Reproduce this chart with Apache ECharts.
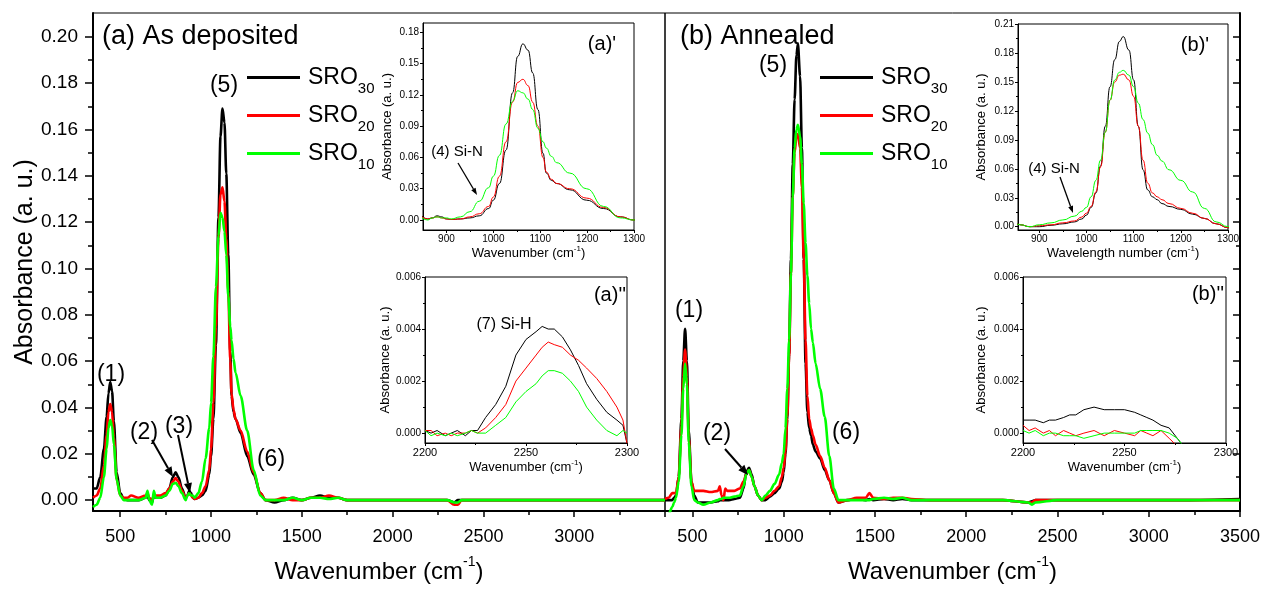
<!DOCTYPE html>
<html><head><meta charset="utf-8">
<script src="https://cdn.jsdelivr.net/npm/echarts@6/dist/echarts.min.js"></script>
<style>html,body{margin:0;padding:0;background:#fff}#c{width:1269px;height:589px}</style>
</head><body><div id="c"></div>
<script>
// ---------- DATA ----------
// (a) As deposited: wavenumbers and absorbance
const wnA = [350,370,390,410,425,435,445,455,465,480,500,520,540,560,600,640,650,660,675,685,695,720,750,770,790,805,820,840,860,870,880,890,900,910,930,950,970,990,1000,1013,1027,1041,1052,1063,1074,1084,1095,1106,1113,1124,1135,1163,1199,1235,1271,1300,1350,1400,1450,1500,1550,1600,1650,1700,1750,1800,1900,2000,2100,2200,2300,2340,2360,2380,2450,2600,2800,3000,3200,3400,3500];
const a30 = [.005,.005,.010,.022,.036,.046,.051,.047,.034,.012,
 .003,.0005,0,0,0,.001,.002,0,-.001,.002,
 .001,.001,.002,.005,.010,.012,.010,.005,.001,.002,
 .004,.003,.001,.0005,.001,.002,.004,.011,.019,.035,
 .067,.122,.157,.169,.163,.141,.106,.064,.045,.038,
 .035,.029,.019,.011,.003,0,-.001,0,.001,0,
 .001,.002,.001,.001,0,0,0,0,0,0,
 0,-.001,0,0,0,0,0,0,0,0,
 0];
const a20 = [.001,.002,.005,.015,.028,.038,.0415,.038,.027,.009,
 .002,.001,.001,.002,.001,.002,.003,.001,0,.002,
 .002,.002,.003,.005,.008,.0095,.008,.004,.001,.002,
 .003,.002,.001,.0005,.001,.003,.006,.013,.022,.042,
 .075,.113,.132,.135,.129,.113,.090,.060,.046,.039,
 .035,.030,.021,.012,.003,0,0,.001,0,0,
 .001,.001,.002,.001,0,0,0,0,0,0,
 0,-.002,-.002,0,0,0,0,0,0,0,
 0];
const a10 = [-.003,-.002,.001,.010,.022,.031,.0346,.032,.024,.009,
 .002,0,0,0,0,.001,.004,0,-.002,.004,
 .001,.001,.002,.004,.007,.0075,.006,.003,0,.002,
 .003,.002,.002,.001,.003,.008,.018,.031,.042,.062,
 .092,.114,.124,.122,.116,.106,.088,.075,.069,.061,
 .055,.045,.030,.013,.002,0,0,0,.001,0,
 .001,.001,.0005,.001,0,0,0,0,0,0,
 0,-.001,-.001,0,0,0,0,0,0,0,
 0];
// (b) Annealed
const wnB = [350,370,390,400,410,425,440,450,460,470,480,495,510,530,560,600,640,650,660,670,680,690,700,730,760,780,795,810,825,840,860,880,900,925,950,975,990,1000,1010,1020,1030,1040,1050,1060,1070,1078,1090,1100,1110,1120,1130,1140,1150,1160,1175,1200,1225,1250,1275,1300,1350,1400,1450,1470,1490,1550,1600,1650,1700,1800,2000,2200,2340,2360,2380,2500,2800,3000,3200,3500];
const b30 = [0,0,0,.001,.002,.010,.035,.060,.074,.060,
 .030,.008,.002,-.001,-.001,-.001,-.0005,0,0,0,
 0,0,0,.0005,.001,.005,.012,.014,.011,.006,
 .002,0,0,.0015,.003,.005,.008,.012,.020,.035,
 .063,.104,.145,.173,.192,.197,.183,.152,.104,.059,
 .038,.031,.028,.024,.021,.018,.013,.0086,.003,-.001,
 0,.0005,0,.0005,0,.0005,0,.0005,0,0,
 0,0,-.001,-.0005,0,0,0,0,0,.0005];
const b20 = [.0005,.001,.003,.003,.003,.010,.032,.053,.065,.053,
 .027,.008,.004,.004,.004,.0035,.004,.006,.002,0,
 .005,.004,.004,.004,.005,.008,.011,.013,.010,.006,
 .002,0,.001,.002,.004,.006,.010,.014,.021,.036,
 .062,.098,.131,.150,.157,.158,.152,.135,.104,.069,
 .045,.035,.031,.028,.024,.019,.014,.0086,.003,-.001,
 0,.001,.001,.003,.001,.0005,.001,.001,.0005,0,
 0,0,-.001,-.001,0,0,0,0,0,0];
const b10 = [-.008,-.006,-.003,-.001,.001,.008,.028,.048,.059,.050,
 .025,.006,0,-.001,-.002,-.001,0,.0005,.0005,.001,
 .001,.001,.001,.0015,.002,.006,.011,.013,.010,.006,
 .002,0,.002,.004,.007,.011,.016,.020,.031,.048,
 .069,.098,.131,.152,.160,.162,.157,.145,.128,.111,
 .097,.085,.074,.068,.059,.048,.036,.019,.005,0,
 0,0,0,0,.0005,.001,.0005,.001,0,0,
 0,0,-.001,-.002,-.001,0,0,0,0,0];
// Si-H region (insets a'' and b'')
const siHx = [2200,2203,2206,2210,2213,2216,2220,2223,2226,2230,2235,2240,2245,2250,2255,2258,2261,2264,2268,2272,2276,2280,2285,2290,2295,2298,2300];
const siHa30 = [.0001,0,.0001,-.0001,0,.0001,-.0001,.0001,.0001,.0006,.0011,.0018,.0030,.0036,.0039,.0041,.0040,.0040,.0037,.0032,.0026,.0019,.0013,.0008,.0005,.0003,-.0004];
const siHa20 = [.0001,.0001,-.0001,0,-.0001,0,0,.0001,0,.0002,.0006,.0011,.0020,.0025,.0030,.0033,.0035,.0034,.0033,.0030,.0028,.0025,.0021,.0016,.0010,.0005,-.0004];
const siHa10 = [.0001,-.0001,0,-.0001,0,-.0001,0,.0001,0,0,.0003,.0006,.0012,.0016,.0019,.0022,.0024,.0024,.0023,.0020,.0016,.0010,.0005,.0001,-.0001,.0001,0];
const siHb30 = [.0005,.0005,.0005,.0004,.0005,.0005,.0006,.0007,.0007,.0009,.0010,.0009,.0009,.0009,.0008,.0007,.0006,.0005,.0003,.0002,-.0002,-.0006,-.001,-.001,-.001,-.001,-.001];
const siHb20 = [.0003,.0001,.0002,0,.0001,-.0001,.0001,0,-.0001,0,.0001,-.0001,.0001,0,-.0001,.0001,0,-.0001,.0001,-.0002,-.0005,-.001,-.001,-.001,-.001,-.001,-.001];
const siHb10 = [.0001,0,.0001,-.0001,0,0,-.0001,-.0001,-.0001,-.0002,-.0001,0,0,0,0,.0001,.0001,.0001,.0001,0,-.0002,-.0006,-.001,-.001,-.001,-.001,-.001];
// tick values
const mainXTicks = [500,1000,1500,2000,2500,3000,3500];
const mainXMinor = [750,1250,1750,2250,2750,3250];
const mainYTicks = [0,0.02,0.04,0.06,0.08,0.10,0.12,0.14,0.16,0.18,0.20];
const mainYMinor = [0.01,0.03,0.05,0.07,0.09,0.11,0.13,0.15,0.17,0.19];
const primeXTicks = [900,1000,1100,1200,1300];
const primeXMinor = [950,1050,1150,1250];
const aPrimeYTicks = [0,0.03,0.06,0.09,0.12,0.15,0.18];
const bPrimeYTicks = [0,0.03,0.06,0.09,0.12,0.15,0.18,0.21];
const primeYMinor = [0.015,0.045,0.075,0.105,0.135,0.165,0.195];
const siHXTicks = [2200,2250,2300];
const siHXMinor = [2225,2275];
const siHYTicks = [0,0.002,0.004,0.006];
const siHYMinor = [0.001,0.003,0.005];
const seriesNames = ['SRO30','SRO20','SRO10'];
const seriesColors = ['#000000','#ff0000','#00ff00'];

// ---------- CHART ----------
const F = '"Liberation Sans", Arial, sans-serif';
const chart = echarts.init(document.getElementById('c'), null, {renderer:'canvas'});

const grids = [
  {left:93, top:13, width:572, height:503},
  {left:665, top:13, width:575, height:503},
  {left:423, top:23, width:211, height:207},
  {left:425, top:277, width:202, height:166},
  {left:1018, top:24, width:210, height:206},
  {left:1023, top:277, width:203, height:166}
].map(g => Object.assign(g, {show:true, borderColor:'#000', borderWidth:1, backgroundColor:'transparent', containLabel:false}));

function axPair(kind, gi, min, max, major, minor, o) {
  const pos = o.pos;
  const base = {type:'value', gridIndex:gi, min, max, position:pos, splitLine:{show:false}, scale:true};
  const maj = Object.assign({}, base, {
    axisLine:{show:true, onZero:false, lineStyle:{color:'#000', width:o.lw}},
    axisTick:{show:true, inside:!!o.inside, customValues:major, length:o.tl, lineStyle:{color:'#000', width:o.tw || 1}},
    axisLabel:{show:o.labels !== false, customValues:o.labelVals || major, fontSize:o.fs, color:'#000', fontFamily:F, margin:o.margin, formatter:o.fmt},
    name:o.name || '', nameLocation:'middle', nameGap:o.nameGap, nameTextStyle:o.nts || {}
  });
  const mnr = Object.assign({}, base, {
    axisLine:{show:false, onZero:false},
    axisTick:{show:true, inside:!!o.inside, customValues:minor, length:o.mtl, lineStyle:{color:'#000', width:o.tw || 1}},
    axisLabel:{show:false}
  });
  return [maj, mnr];
}

const bigXName = {rich:{a:{fontSize:24, fontFamily:F, color:'#000'}, s:{fontSize:14, fontFamily:F, color:'#000', padding:[0,0,20,0]}}};
const smallXName = {rich:{a:{fontSize:13, fontFamily:F, color:'#000'}, s:{fontSize:8, fontFamily:F, color:'#000', padding:[0,0,9,0]}}};
const wnName = '{a|Wavenumber (cm}{s|-1}{a|)}';
const fmt2 = v => v.toFixed(2), fmt3 = v => v.toFixed(3), fmt0 = v => String(Math.round(v));

const xAxes = [].concat(
  axPair('x',0,350,3500,mainXTicks,mainXMinor,{pos:'bottom',lw:2,tl:6,mtl:4,tw:1.5,fs:18,margin:17,fmt:fmt0,labelVals:mainXTicks.slice(0,6),name:wnName,nameGap:44,nts:bigXName}),
  axPair('x',1,350,3500,mainXTicks,mainXMinor,{pos:'bottom',lw:2,tl:6,mtl:4,tw:1.5,fs:18,margin:17,fmt:fmt0,name:wnName,nameGap:44,nts:bigXName}),
  axPair('x',2,850,1300,primeXTicks,primeXMinor,{pos:'bottom',lw:1,tl:3,mtl:2,fs:10,margin:4,fmt:fmt0,name:wnName,nameGap:14,nts:smallXName}),
  axPair('x',3,2200,2300,siHXTicks,siHXMinor,{pos:'bottom',lw:1,tl:3,mtl:2,fs:11,margin:4,fmt:fmt0,name:wnName,nameGap:14,nts:smallXName}),
  axPair('x',4,855,1300,primeXTicks,primeXMinor,{pos:'bottom',lw:1,tl:3,mtl:2,fs:10,margin:4,fmt:fmt0,name:'{a|Wavelength number (cm}{s|-1}{a|)}',nameGap:14,nts:smallXName}),
  axPair('x',5,2200,2300,siHXTicks,siHXMinor,{pos:'bottom',lw:1,tl:3,mtl:2,fs:11,margin:4,fmt:fmt0,name:wnName,nameGap:14,nts:smallXName})
);
const absName = 'Absorbance (a. u.)';
const yAxes = [].concat(
  axPair('y',0,-0.0047,0.2103,mainYTicks,mainYMinor,{pos:'left',lw:2,tl:8,mtl:5,tw:1.5,fs:19,margin:15,fmt:fmt2,name:absName,nameGap:52,nts:{fontSize:25,fontFamily:F,color:'#000'}}),
  axPair('y',1,-0.0047,0.2103,mainYTicks,mainYMinor,{pos:'right',lw:2,tl:7,mtl:4,tw:1.5,inside:true,labels:false}),
  axPair('y',2,-0.0096,0.189,aPrimeYTicks,primeYMinor,{pos:'left',lw:1,tl:3,mtl:2,fs:10,margin:4,fmt:fmt2,name:absName,nameGap:29,nts:{fontSize:13,fontFamily:F,color:'#000'}}),
  axPair('y',3,-0.00038,0.006,siHYTicks,siHYMinor,{pos:'left',lw:1,tl:3,mtl:2,fs:10,margin:4,fmt:fmt3,name:absName,nameGap:33,nts:{fontSize:13,fontFamily:F,color:'#000'}}),
  axPair('y',4,-0.0034,0.21,bPrimeYTicks,primeYMinor,{pos:'left',lw:1,tl:3,mtl:2,fs:10,margin:4,fmt:fmt2,name:absName,nameGap:30,nts:{fontSize:13,fontFamily:F,color:'#000'}}),
  axPair('y',5,-0.00038,0.006,siHYTicks,siHYMinor,{pos:'left',lw:1,tl:3,mtl:2,fs:10,margin:4,fmt:fmt3,name:absName,nameGap:35,nts:{fontSize:13,fontFamily:F,color:'#000'}})
);

const series = [];
function addSet(gi, xs, ysList, lw, smooth) {
  ysList.forEach((ys, k) => {
    series.push({
      type:'line', name:seriesNames[k], xAxisIndex:2*gi, yAxisIndex:2*gi,
      data: xs.map((x, i) => [x, ys[i]]),
      showSymbol:false, symbol:'none', smooth:smooth, smoothMonotone:'x', clip:true,
      lineStyle:{color:seriesColors[k], width:lw}, itemStyle:{color:seriesColors[k]},
      emphasis:{disabled:true}, silent:true
    });
  });
}
addSet(0, wnA, [a30,a20,a10], 2.6, 0.3);
addSet(1, wnB, [b30,b20,b10], 2.6, 0.3);
addSet(2, wnA, [a30,a20,a10], 1, 0.5);
addSet(3, siHx, [siHa30,siHa20,siHa10], 1, false);
addSet(4, wnB, [b30,b20,b10], 1, 0.5);
addSet(5, siHx, [siHb30,siHb20,siHb10], 1, false);

function legendAt(left, top) {
  return {
    orient:'vertical', left:left, top:top, itemWidth:53, itemHeight:3, itemGap:8, icon:'rect',
    selectedMode:false, data:seriesNames,
    formatter: n => '{m|SRO}{s|' + n.slice(3) + '}',
    textStyle:{rich:{m:{fontSize:23, fontFamily:F, color:'#000', padding:[0,0,0,3]}, s:{fontSize:15, fontFamily:F, color:'#000', padding:[22,0,0,0]}}}
  };
}

function txt(x, y, s, size, align) {
  return {type:'text', x:x, y:y, z:100, style:{text:s, font:size + 'px "Liberation Sans", Arial, sans-serif', fill:'#000',
    align:align || 'center', textAlign:align || 'center', verticalAlign:'middle', textVerticalAlign:'middle'}};
}
function arrow(x1, y1, x2, y2, w, hl, hw) {
  const dx = x2 - x1, dy = y2 - y1, L = Math.hypot(dx, dy), ux = dx / L, uy = dy / L;
  const bx = x2 - ux * hl, by = y2 - uy * hl;
  return [
    {type:'line', z:100, shape:{x1:x1, y1:y1, x2:bx, y2:by}, style:{stroke:'#000', lineWidth:w}},
    {type:'polygon', z:100, shape:{points:[[x2, y2], [bx - uy * hw / 2, by + ux * hw / 2], [bx + uy * hw / 2, by - ux * hw / 2]]}, style:{fill:'#000'}}
  ];
}

const graphics = [].concat(
  [txt(102, 37, '(a) As deposited', 27, 'left'), txt(680, 37, '(b) Annealed', 27, 'left'),
   txt(224, 86, '(5)', 23), txt(111, 375, '(1)', 23), txt(144, 433, '(2)', 23), txt(179, 427, '(3)', 23), txt(271, 460, '(6)', 23),
   txt(773, 66, '(5)', 23), txt(689, 311, '(1)', 23), txt(717, 434, '(2)', 23), txt(846, 433, '(6)', 23),
   txt(602, 44, "(a)'", 20), txt(610, 295, "(a)''", 20), txt(1195, 45, "(b)'", 20), txt(1208, 294, "(b)''", 20),
   txt(457, 152, '(4) Si-N', 15), txt(1054, 169, '(4) Si-N', 15), txt(504, 325, '(7) Si-H', 16)],
  arrow(152, 440, 173, 477, 2, 10, 8),
  arrow(178, 435, 190, 493, 2, 10, 8),
  arrow(725, 449, 748, 475, 2, 10, 8),
  arrow(458, 163, 477, 195, 1.3, 7, 5),
  arrow(1060, 177, 1073, 213, 1.3, 7, 5)
);

chart.setOption({
  animation:false,
  backgroundColor:'#ffffff',
  textStyle:{fontFamily:F},
  grid:grids,
  xAxis:xAxes,
  yAxis:yAxes,
  legend:[legendAt(242, 61), legendAt(815, 61)],
  series:series,
  graphic:{elements:graphics}
});
</script></body></html>
